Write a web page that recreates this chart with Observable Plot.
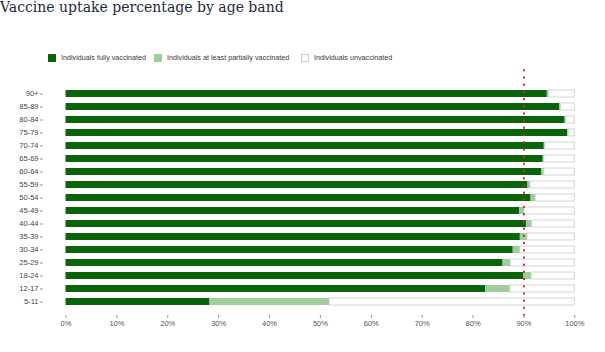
<!DOCTYPE html>
<html>
<head>
<meta charset="utf-8">
<script src="https://cdn.jsdelivr.net/npm/d3@7"></script>
<script src="https://cdn.jsdelivr.net/npm/@observablehq/plot@0.6"></script>
<style>
  html, body { margin: 0; padding: 0; background: #fff; }
  #wrap { position: relative; width: 605px; height: 352px; overflow: hidden; }
  #title { position: absolute; left: 0; top: 0; line-height: 14px; font-family: "DejaVu Serif", serif; font-size: 14px; color: #1d2b3a; white-space: nowrap; }
  #legend { position: absolute; left: 0; top: 0; width: 605px; height: 70px; font-family: "Liberation Sans", Arial, sans-serif; font-size: 7.2px; color: #3a3a3a; }
  .item { position: absolute; top: 53px; display: flex; align-items: center; white-space: nowrap; }
  .sw { width: 8px; height: 8px; box-sizing: border-box; margin-right: 5px; }
  #chart { position: absolute; left: 0; top: 0; }
</style>
</head>
<body>
<div id="wrap">
  <div id="chart"></div>
  <div id="title">Vaccine uptake percentage by age band</div>
  <div id="legend"></div>
</div>
<script>
const ageBands = ["90+","85-89","80-84","75-79","70-74","65-69","60-64","55-59","50-54","45-49","40-44","35-39","30-34","25-29","18-24","12-17","5-11"];
const fullyVaccinated = [94.6,97.0,98.1,98.6,94.0,93.8,93.5,90.8,91.4,89.2,90.5,89.3,87.9,85.9,90.0,82.5,28.3];
const atLeastPartially = [94.9,97.3,98.3,98.8,94.2,94.0,94.0,91.3,92.3,90.1,91.6,90.7,89.3,87.4,91.5,87.3,51.8];
const xTicks = [0,10,20,30,40,50,60,70,80,90,100];
const targetLine = [90];
const seriesNames = ["Individuals fully vaccinated","Individuals at least partially vaccinated","Individuals unvaccinated"];
const seriesColors = ["#0a650a","#9fcd9c","#ffffff"];

const segments = [];
ageBands.forEach((band, i) => {
  segments.push({band, series: seriesNames[0], x1: 0, x2: fullyVaccinated[i]});
  segments.push({band, series: seriesNames[1], x1: fullyVaccinated[i], x2: atLeastPartially[i]});
  segments.push({band, series: seriesNames[2], x1: atLeastPartially[i], x2: 100});
});

const chart = Plot.plot({
  width: 605,
  height: 352,
  marginLeft: 43,
  marginRight: 30,
  marginTop: 70,
  marginBottom: 37,
  style: {fontFamily: "Liberation Sans, Arial, sans-serif", fontSize: "7.5px", color: "#444", background: "transparent"},
  x: {domain: [0, 100], range: [65.5, 574.3], ticks: xTicks, tickFormat: d => d + "%", tickSize: 3, tickPadding: 2, label: null},
  y: {domain: ageBands, range: [79.3, 315.7], padding: 0.43, label: null, tickSize: 3, tickPadding: 2},
  color: {domain: seriesNames, range: seriesColors},
  marks: [
    Plot.barX(segments, {y: "band", x1: "x1", x2: "x2", fill: "series",
      stroke: d => d.series === seriesNames[2] ? "#cfcfcf" : "none", strokeWidth: 0.9}),
    Plot.ruleX(targetLine, {stroke: "#d8203a", strokeWidth: 2, strokeDasharray: "0.5,6.7", strokeLinecap: "round"}),
    Plot.axisX({ticks: xTicks, tickFormat: d => d + "%", tickSize: 3, tickPadding: 2, stroke: "#999", fill: "#555", anchor: "bottom"}),
    Plot.axisY({tickSize: 3, tickPadding: 2, stroke: "#999", fill: "#444", anchor: "left"})
  ]
});
document.getElementById("chart").appendChild(chart);

const legend = document.getElementById("legend");
const legendX = [48, 154, 301];
seriesNames.forEach((name, i) => {
  const it = document.createElement("div");
  it.className = "item";
  it.style.left = legendX[i] + "px";
  const sw = document.createElement("div");
  sw.className = "sw";
  sw.style.background = seriesColors[i];
  if (i === 2) sw.style.border = "1px solid #ccc";
  const tx = document.createElement("span");
  tx.textContent = name;
  it.appendChild(sw);
  it.appendChild(tx);
  legend.appendChild(it);
});
</script>
</body>
</html>
